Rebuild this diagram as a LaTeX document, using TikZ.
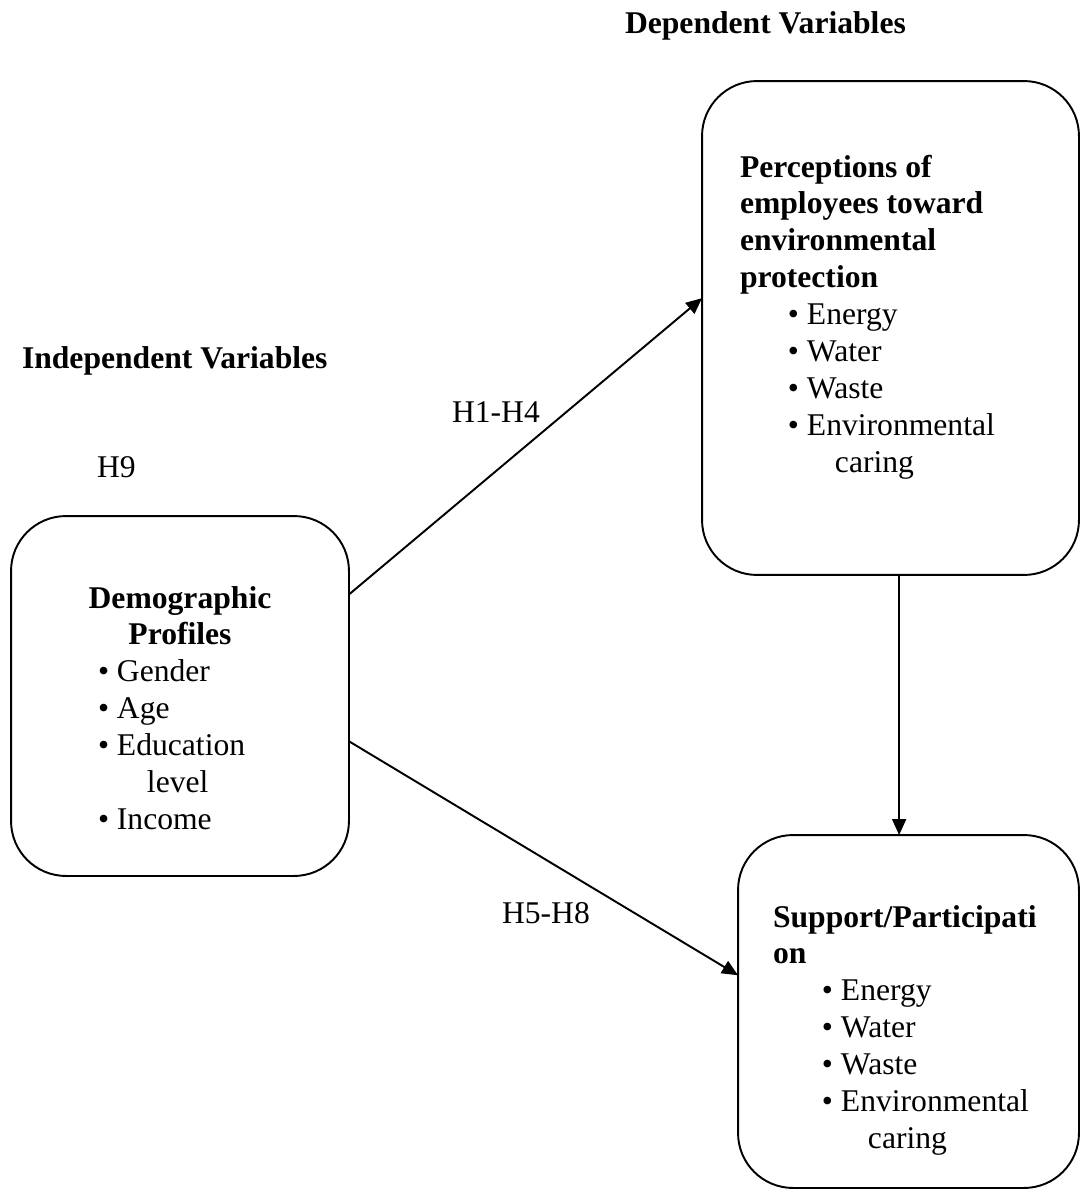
\documentclass[tikz,border=0pt]{standalone}
\usepackage{fontspec}
\setmainfont{Liberation Serif}
\usetikzlibrary{arrows.meta}
\begin{document}
\begin{tikzpicture}[x=0.02cm,y=-0.02cm,
 box/.style={draw, line width=1.1pt, rounded corners=1.1cm, inner sep=0pt, outer sep=0pt},
 txt/.style={inner sep=0pt, outer sep=0pt, anchor=base west, font=\fontsize{18}{21}\selectfont},
 arr/.style={line width=1.1pt, -{Triangle[length=0.32cm,width=0.28cm]}}]
\useasboundingbox (0,0) rectangle (1080,1190);

% boxes
\node[box, minimum width=7.54cm, minimum height=9.88cm] (T) at (890.5,328) {};
\node[box, minimum width=6.82cm, minimum height=7.06cm] (B) at (908.5,1011.5) {};
\node[box, minimum width=6.76cm, minimum height=7.2cm] (L) at (180,696) {};

% headings and labels
\node[txt, font=\fontsize{18}{21}\selectfont\bfseries] (dep) at (625,33) {Dependent Variables};
\node[txt, font=\fontsize{18}{21}\selectfont\bfseries] (ind) at (22,368) {Independent Variables};
\node[txt] (h9) at (97,477) {H9};
\node[txt] (h14) at (452,422) {H1-H4};
\node[txt] (h58) at (502,923) {H5-H8};

% box texts
\node[txt] (ttxt) at (740,177) {\vtop{
\hbox{\bfseries Perceptions of}
\hbox{\bfseries employees toward}
\hbox{\bfseries environmental}
\hbox{\bfseries protection}
\hbox{\hspace*{0.96cm}• Energy}
\hbox{\hspace*{0.96cm}• Water}
\hbox{\hspace*{0.96cm}• Waste}
\hbox{\hspace*{0.96cm}• Environmental}
\hbox{\hspace*{1.9cm}caring}}};

\node[txt] (btxt) at (773,927) {\vtop{
\hbox{\bfseries Support/Participati}
\hbox{\bfseries on}
\hbox{\hspace*{0.98cm}• Energy}
\hbox{\hspace*{0.98cm}• Water}
\hbox{\hspace*{0.98cm}• Waste}
\hbox{\hspace*{0.98cm}• Environmental}
\hbox{\hspace*{1.9cm}caring}}};

\node[txt] (ltxt) at (98,608) {\vtop{
\hbox to 3.28cm{\hss\bfseries Demographic\hss}
\hbox to 3.28cm{\hss\bfseries Profiles\hss}
\hbox{• Gender}
\hbox{• Age}
\hbox{• Education}
\hbox{\hspace*{0.98cm}level}
\hbox{• Income}}};

% connectors
\draw[arr] (L.31) -- (T.171.3);
\draw[arr] (L.-15.6) -- (B.168.6);
\draw[arr] (T.-88.5) -- (T.-88.5 |- B.north);
\end{tikzpicture}
\end{document}
